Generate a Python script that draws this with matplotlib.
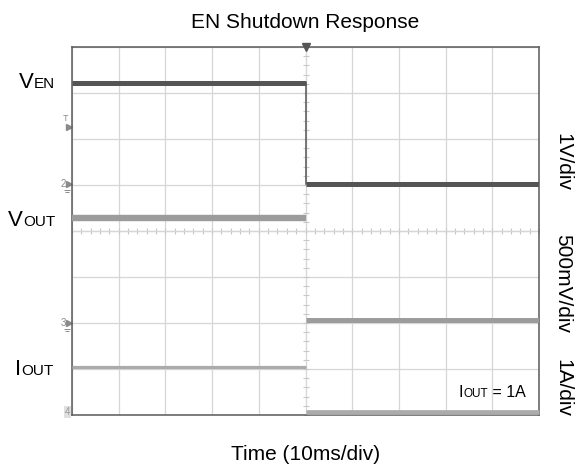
import numpy as np
import matplotlib
matplotlib.use("Agg")
import matplotlib.pyplot as plt

plt.rcParams['font.family'] = ['Liberation Sans', 'DejaVu Sans']

# ---- data (physical units) ----
time_ms = [0, 50, 50, 100]          # 10 ms/div, EN falls at 50 ms
ven = [2.2, 2.2, 0.0, 0.0]          # V, 1 V/div
vout_left = [1.15, 1.15]            # V, 500 mV/div
vout_right = [0.04, 0.04]
iout_left = [0.98, 0.98]            # A, 1 A/div
iout_right = [0.0, 0.0]
t_left = [0, 50]
t_right = [50, 100]

# channel ground positions (divisions) and scales (units/div)
ch2_gnd, ch2_scale = 5.02, 1.0
ch3_gnd, ch3_scale = 1.99, 0.5
ch4_gnd, ch4_scale = 0.06, 1.0
trig_level = 6.26

title = "EN Shutdown Response"
xlabel = "Time (10ms/div)"
right_labels = ["1V/div", "500mV/div", "1A/div"]

W, H = 580, 470
fig = plt.figure(figsize=(W / 100, H / 100), dpi=100)
ax = fig.add_axes([72 / W, (H - 415) / H, 467 / W, 368 / H])
ax.set_xlim(0, 100)
ax.set_ylim(0, 8)
ax.set_xticks(np.arange(0, 101, 10))
ax.set_yticks(np.arange(0, 9, 1))
ax.tick_params(length=0, labelleft=False, labelbottom=False)
ax.grid(True, color='#d6d6d6', lw=0.9)
ax.set_axisbelow(True)
for s in ax.spines.values():
    s.set_color('#5a5a5a')
    s.set_linewidth(1.1)

# center graticule ticks
ax.plot(np.arange(0, 100.1, 2), np.full(51, 4.0), ls='none', marker='|',
        ms=4, mew=0.8, color='#c8c8c8', zorder=1)
ax.plot(np.full(41, 50.0), np.arange(0, 8.01, 0.2), ls='none', marker='_',
        ms=4, mew=0.8, color='#c8c8c8', zorder=1)
ax.axhline(4.0, color='#d6d6d6', lw=0.9, zorder=1)

def div(vals, gnd, scale):
    return [gnd + v / scale for v in vals]

# traces
ax.plot(t_left, div(iout_left, ch4_gnd, ch4_scale), color='#ababab', lw=2.3,
        solid_capstyle='butt', zorder=3)
ax.plot(t_right, div(iout_right, ch4_gnd, ch4_scale), color='#ababab', lw=3.4,
        solid_capstyle='butt', zorder=3, clip_on=False)
ax.plot(t_left, div(vout_left, ch3_gnd, ch3_scale), color='#9c9c9c', lw=4.6,
        solid_capstyle='butt', zorder=3)
ax.plot(t_right, div(vout_right, ch3_gnd, ch3_scale), color='#9c9c9c', lw=3.6,
        solid_capstyle='butt', zorder=3)
ven_div = div(ven, ch2_gnd, ch2_scale)
ax.plot(time_ms[:2], ven_div[:2], color='#555555', lw=3.6,
        solid_capstyle='butt', zorder=4)
ax.plot(time_ms[2:], ven_div[2:], color='#555555', lw=3.6,
        solid_capstyle='butt', zorder=4)
ax.plot(time_ms[1:3], ven_div[1:3], color='#555555', lw=1.1, zorder=4)

# trigger marker at top
ax.plot([50], [8], marker='v', ms=6, color='#555555', clip_on=False, zorder=5)

# channel markers on left
mk_color = '#8a8a8a'
ax.plot([-0.6], [trig_level], marker='>', ms=4, color=mk_color, clip_on=False)
ax.text(-0.9, trig_level + 0.08, "T", fontsize=6.5, color=mk_color,
        ha='right', va='bottom')
for lbl, gnd in [("2", ch2_gnd), ("3", ch3_gnd)]:
    ax.plot([-0.6], [gnd], marker='>', ms=4, color=mk_color, clip_on=False)
    ax.text(-1.3, gnd, lbl, fontsize=7, color=mk_color, ha='right', va='center')
    ax.plot([-1.0], [gnd - 0.12], marker='_', ms=5, mew=0.7, color=mk_color,
            clip_on=False)
    ax.plot([-1.0], [gnd - 0.17], marker='_', ms=3, mew=0.7, color=mk_color,
            clip_on=False)
ax.text(-0.4, ch4_gnd, "4", fontsize=7, color='#999999', ha='right', va='center',
        bbox=dict(boxstyle='square,pad=0.1', fc='#e0e0e0', ec='none'))

# texts
def px(x, y):
    return x / W, (H - y) / H

fig.text(*px(305, 28), title, ha='center', va='baseline', fontsize=15)
fig.text(*px(306, 460), xlabel, ha='center', va='baseline', fontsize=15)
for lbl, yc in zip(right_labels, [162, 284, 388]):
    fig.text(*px(563, yc), lbl, ha='center', va='center', rotation=-90, fontsize=15)

fig.canvas.draw()
renderer = fig.canvas.get_renderer()

def sub_label(main, sub, x_right, y_base, size_main, size_sub):
    ts = fig.text(*px(x_right, y_base), sub, ha='right', va='baseline', fontsize=size_sub)
    bb = ts.get_window_extent(renderer)
    fig.text(bb.x0 / W - 0.3 / W, (H - y_base) / H, main, ha='right',
             va='baseline', fontsize=size_main)

sub_label("V", "EN", 55, 88, 16, 11)
sub_label("V", "OUT", 55, 226, 16, 11)
sub_label("I", "OUT", 54, 375, 16, 11)

# annotation I_OUT = 1A
t1 = fig.text(*px(459, 397), "I", ha='left', va='baseline', fontsize=11.5)
fig.canvas.draw()
b1 = t1.get_window_extent(renderer)
t2 = fig.text(b1.x1 / W, (H - 397) / H, "OUT", ha='left', va='baseline', fontsize=8.5)
fig.canvas.draw()
b2 = t2.get_window_extent(renderer)
fig.text(b2.x1 / W, (H - 397) / H, " = 1A", ha='left', va='baseline', fontsize=11.5)

fig.savefig("out.png", dpi=100)
